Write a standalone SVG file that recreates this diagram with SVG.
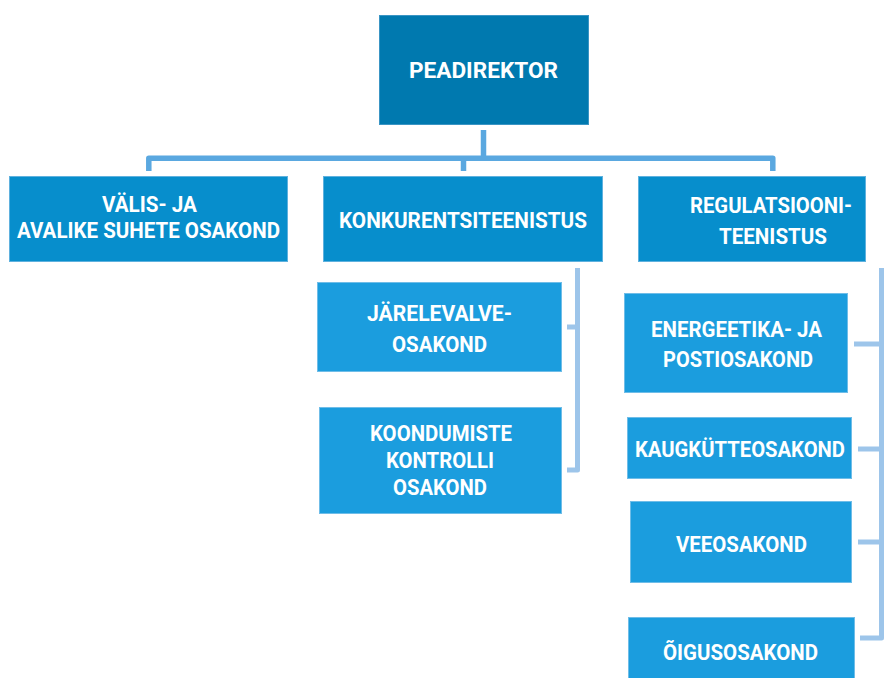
<svg xmlns="http://www.w3.org/2000/svg" width="894" height="678" viewBox="0 0 894 678">
<style>
.t{font-family:Roboto,"Liberation Sans",sans-serif;font-weight:700;font-size:22.5px;fill:#ffffff}
.top{fill:#0079af;stroke:#3a95c4;stroke-width:1}
.l2{fill:#078ecc;stroke:#5fb1de;stroke-width:1}
.l3{fill:#1b9dde;stroke:#6fbde8;stroke-width:1}
.main{fill:none;stroke:#5aa8e0;stroke-width:5.5;stroke-linejoin:round}
.br{fill:none;stroke:#9dc5ea;stroke-width:5;stroke-linejoin:round}
</style>
<rect width="894" height="678" fill="#ffffff"/>
<g id="connectors">
<path class="main" d="M483.5,130 V158.3"/>
<path class="main" d="M148.8,171 V158.3 H772.8 V171"/>
<path class="main" d="M463.5,158.3 V171"/>
<path class="br" d="M577.5,268 V470 H567"/>
<path class="br" d="M567,327 H577.5"/>
<path class="br" d="M881.5,268 V638 H860"/>
<path class="br" d="M854,344 H881.5"/>
<path class="br" d="M858,449 H881.5"/>
<path class="br" d="M858,542 H881.5"/>
</g>
<g id="peadirektor">
<rect class="top" x="379.5" y="15.5" width="209" height="109"/>
<text class="t" x="409" y="78" font-size="25" textLength="149" lengthAdjust="spacingAndGlyphs">PEADIREKTOR</text>
</g>
<g id="valis">
<rect class="l2" x="9.5" y="176.5" width="278" height="85"/>
<text class="t" x="102" y="212" textLength="95" lengthAdjust="spacingAndGlyphs">VÄLIS- JA</text>
<text class="t" x="17" y="238" textLength="263" lengthAdjust="spacingAndGlyphs">AVALIKE SUHETE OSAKOND</text>
</g>
<g id="konkurents">
<rect class="l2" x="323.5" y="176.5" width="279" height="85"/>
<text class="t" x="339" y="228" textLength="248" lengthAdjust="spacingAndGlyphs">KONKURENTSITEENISTUS</text>
</g>
<g id="regulatsiooni">
<rect class="l2" x="638.5" y="176.5" width="227" height="85"/>
<text class="t" x="690" y="213" textLength="162" lengthAdjust="spacingAndGlyphs">REGULATSIOONI-</text>
<text class="t" x="719" y="244" textLength="108" lengthAdjust="spacingAndGlyphs">TEENISTUS</text>
</g>
<g id="jarelevalve">
<rect class="l3" x="317.5" y="282.5" width="244" height="89"/>
<text class="t" x="367" y="321" textLength="145" lengthAdjust="spacingAndGlyphs">JÄRELEVALVE-</text>
<text class="t" x="392" y="352" textLength="95" lengthAdjust="spacingAndGlyphs">OSAKOND</text>
</g>
<g id="koondumiste">
<rect class="l3" x="319.5" y="407.5" width="242" height="106"/>
<text class="t" x="370" y="441" textLength="142" lengthAdjust="spacingAndGlyphs">KOONDUMISTE</text>
<text class="t" x="386" y="468" textLength="108" lengthAdjust="spacingAndGlyphs">KONTROLLI</text>
<text class="t" x="393" y="495" textLength="94" lengthAdjust="spacingAndGlyphs">OSAKOND</text>
</g>
<g id="energeetika">
<rect class="l3" x="624.5" y="293.5" width="223" height="99"/>
<text class="t" x="651" y="337" textLength="171" lengthAdjust="spacingAndGlyphs">ENERGEETIKA- JA</text>
<text class="t" x="663" y="367" textLength="150" lengthAdjust="spacingAndGlyphs">POSTIOSAKOND</text>
</g>
<g id="kaugkutte">
<rect class="l3" x="627.5" y="417.5" width="224" height="61"/>
<text class="t" x="635" y="457" textLength="210" lengthAdjust="spacingAndGlyphs">KAUGKÜTTEOSAKOND</text>
</g>
<g id="vee">
<rect class="l3" x="630.5" y="501.5" width="221" height="81"/>
<text class="t" x="676" y="552" textLength="131" lengthAdjust="spacingAndGlyphs">VEEOSAKOND</text>
</g>
<g id="oigus">
<rect class="l3" x="628.5" y="617.5" width="226" height="62"/>
<text class="t" x="663" y="660" textLength="155" lengthAdjust="spacingAndGlyphs">ÕIGUSOSAKOND</text>
</g>
</svg>
